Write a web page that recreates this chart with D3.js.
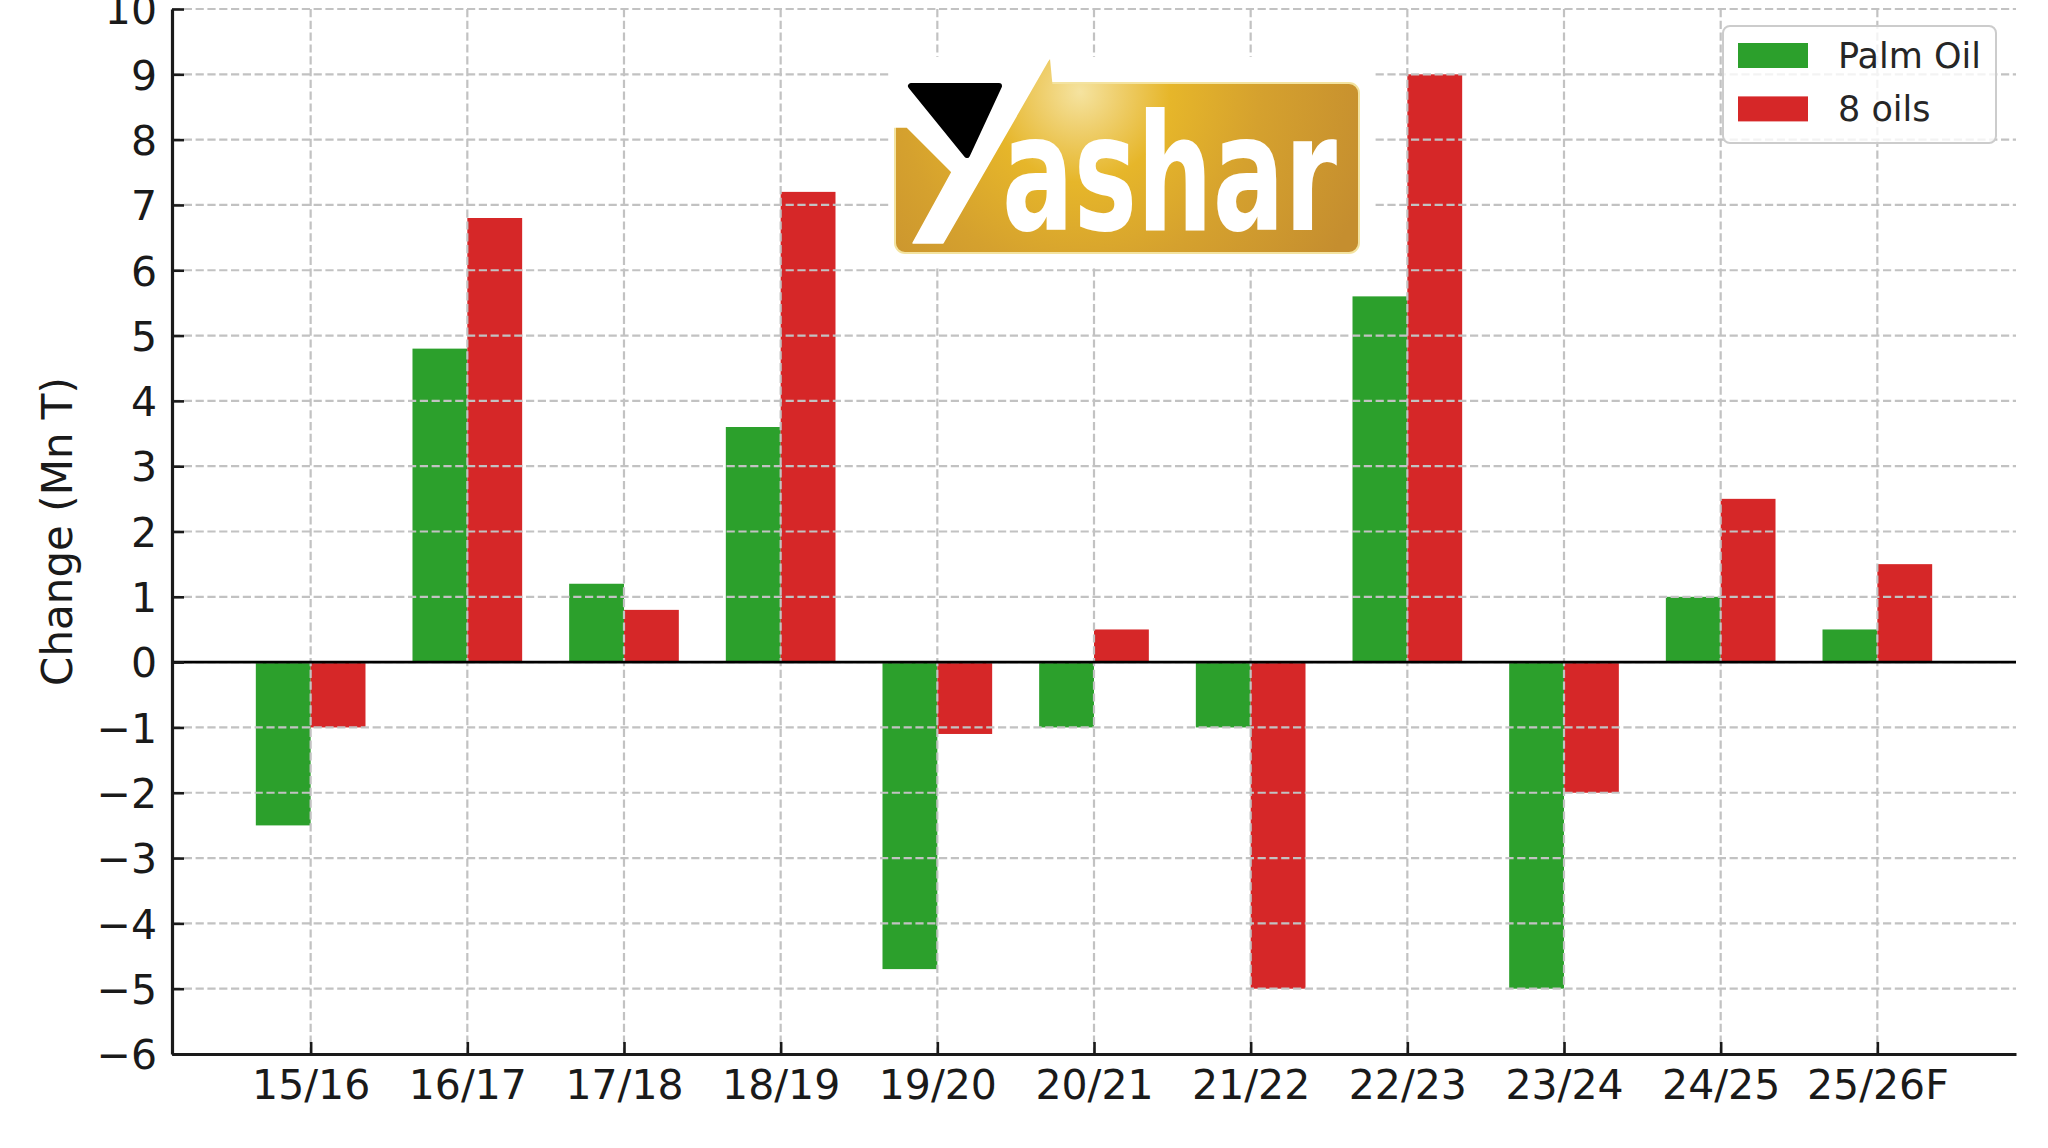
<!DOCTYPE html>
<html>
<head>
<meta charset="utf-8">
<script src="https://cdn.jsdelivr.net/npm/d3@7"></script>
<style>
  body { margin: 0; background: #fff; }
  svg { display: block; font-family: "DejaVu Sans", sans-serif; }
</style>
</head>
<body>
<svg id="chart" width="2048" height="1148"></svg>
<script>
// data (Mn T change per season)
const categories = ["15/16", "16/17", "17/18", "18/19", "19/20", "20/21", "21/22", "22/23", "23/24", "24/25", "25/26F"]
const palmOil = [-2.5, 4.8, 1.2, 3.6, -4.7, -1, -1, 5.6, -5, 1, 0.5]
const eightOils = [-1, 6.8, 0.8, 7.2, -1.1, 0.5, -5, 9, -2, 2.5, 1.5]
const seriesNames = ["Palm Oil", "8 oils"]
const seriesColors = ["#2ca02c", "#d62728"]
const yTicks = d3.range(-6, 11)
const yLabel = "Change (Mn T)"

const LEFT = 172
const RIGHT = 2016
const TOP = 9
const BOTTOM = 1054
const BAR_W = 0.35
const TICK_LEN = 12

var svg = d3.select("#chart")

var x = d3.scaleLinear()
    .domain([-0.885, categories.length - 1 + 0.885])
    .range([LEFT, RIGHT])
var y = d3.scaleLinear()
    .domain([-6, 10])
    .range([BOTTOM, TOP])

// bars
var series = [palmOil, eightOils]
series.forEach(function (vals, s) {
    svg.append("g")
        .attr("fill", seriesColors[s])
        .selectAll("rect")
        .data(vals)
        .enter().append("rect")
        .attr("x", (d, i) => x(i - BAR_W + s * BAR_W))
        .attr("width", x(BAR_W) - x(0))
        .attr("y", d => y(Math.max(0, d)))
        .attr("height", d => Math.abs(y(d) - y(0)))
})

// grid (drawn over the bars like matplotlib does)
var grid = svg.append("g")
    .attr("stroke", "#c2c2c2")
    .attr("stroke-width", 2.2)
    .attr("stroke-dasharray", "8.2,3.6")
grid.selectAll("line.h")
    .data(yTicks)
    .enter().append("line")
    .attr("class", "h")
    .attr("x1", LEFT).attr("x2", RIGHT)
    .attr("y1", d => y(d)).attr("y2", d => y(d))
grid.selectAll("line.v")
    .data(categories)
    .enter().append("line")
    .attr("class", "v")
    .attr("x1", (d, i) => x(i)).attr("x2", (d, i) => x(i))
    .attr("y1", TOP).attr("y2", BOTTOM)

// zero line
svg.append("line")
    .attr("x1", LEFT).attr("x2", RIGHT)
    .attr("y1", y(0)).attr("y2", y(0))
    .attr("stroke", "#000")
    .attr("stroke-width", 2.7)

// axes
var yAxis = svg.append("g")
    .attr("transform", "translate(" + LEFT + ",0)")
    .call(d3.axisLeft(y).tickValues(yTicks).tickSizeInner(-TICK_LEN).tickSizeOuter(0).tickPadding(15))
var xAxis = svg.append("g")
    .attr("transform", "translate(0," + BOTTOM + ")")
    .call(d3.axisBottom(x).tickValues(d3.range(categories.length)).tickFormat(i => categories[i])
        .tickSizeInner(-TICK_LEN).tickSizeOuter(0).tickPadding(0))

;[yAxis, xAxis].forEach(function (ax) {
    ax.select(".domain").attr("stroke", "#1a1a1a").attr("stroke-width", 3.2)
    ax.selectAll(".tick line").attr("stroke", "#1a1a1a").attr("stroke-width", 2.6)
    ax.selectAll(".tick text").attr("fill", "#1a1a1a").attr("font-family", "DejaVu Sans")
})
yAxis.selectAll(".tick text").attr("font-size", 41).attr("dy", "0.36em")
xAxis.selectAll(".tick text").attr("font-size", 41).attr("dy", null).attr("y", 45)

svg.append("text")
    .attr("transform", "translate(72," + ((TOP + BOTTOM) / 2) + ") rotate(-90)")
    .attr("text-anchor", "middle")
    .attr("font-size", 42)
    .attr("fill", "#1a1a1a")
    .text(yLabel)

// logo (pasted image in the original, rebuilt from shapes)
var defs = svg.append("defs")
var grad = defs.append("radialGradient")
    .attr("id", "gold")
    .attr("gradientUnits", "userSpaceOnUse")
    .attr("cx", 1080).attr("cy", 92).attr("r", 300)
grad.selectAll("stop")
    .data([[0, "#f5e3a0"], [0.12, "#efd070"], [0.3, "#e6b62a"], [0.6, "#d5a12e"], [1, "#c58e2f"]])
    .enter().append("stop")
    .attr("offset", d => d[0])
    .attr("stop-color", d => d[1])

var logo = svg.append("g")
logo.append("rect")
    .attr("x", 890).attr("y", 57).attr("width", 483).attr("height", 209)
    .attr("fill", "#fff")
logo.append("rect")
    .attr("x", 895).attr("y", 83).attr("width", 464).attr("height", 170).attr("rx", 10)
    .attr("fill", "url(#gold)")
    .attr("stroke", "#f3e3a0").attr("stroke-width", 2)
logo.append("polygon")
    .attr("points", "1050,59 1053,90 1020,90")
    .attr("fill", "url(#gold)")
logo.append("polygon")
    .attr("points", "888,78 1050,57 943,243 913,243 952,172 907,127 888,127")
    .attr("fill", "#fff")
    .attr("stroke", "#fff").attr("stroke-width", 1.5).attr("stroke-linejoin", "round")
logo.append("polygon")
    .attr("points", "911,86 999,86 967,155")
    .attr("fill", "#000")
    .attr("stroke", "#000").attr("stroke-width", 6).attr("stroke-linejoin", "round")
logo.append("text")
    .attr("x", 1002).attr("y", 230)
    .attr("font-family", "DejaVu Sans Condensed, DejaVu Sans")
    .attr("font-weight", "bold")
    .attr("font-size", 162)
    .attr("textLength", 335)
    .attr("lengthAdjust", "spacingAndGlyphs")
    .attr("fill", "#fff")
    .text("ashar")

// legend
var legend = svg.append("g")
legend.append("rect")
    .attr("x", 1723).attr("y", 26).attr("width", 273).attr("height", 117).attr("rx", 7)
    .attr("fill", "#fff").attr("fill-opacity", 0.8)
    .attr("stroke", "#cccccc").attr("stroke-width", 2)
var items = legend.selectAll("g.item")
    .data(seriesNames)
    .enter().append("g")
    .attr("class", "item")
    .attr("transform", (d, i) => "translate(1738," + (43 + i * 53.4) + ")")
items.append("rect")
    .attr("width", 70).attr("height", 25)
    .attr("fill", (d, i) => seriesColors[i])
items.append("text")
    .attr("x", 100).attr("y", 25)
    .attr("font-size", 35)
    .attr("fill", "#262626")
    .text(d => d)
</script>
</body>
</html>
